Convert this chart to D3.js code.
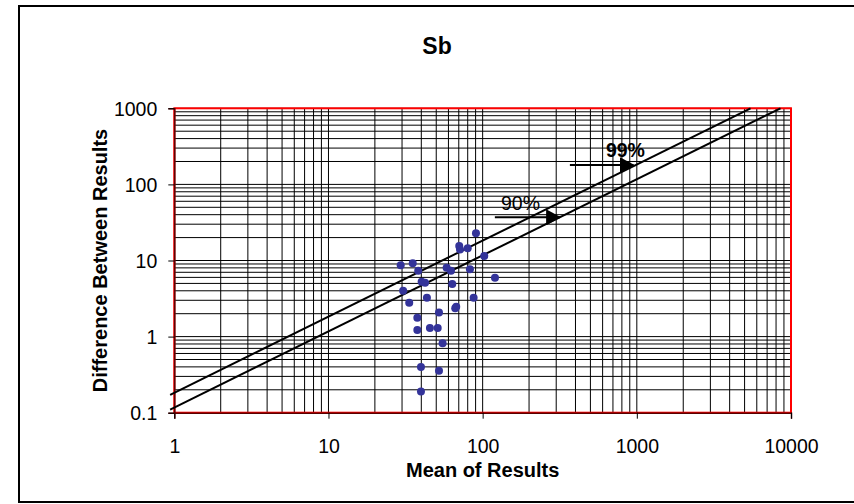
<!DOCTYPE html>
<html>
<head>
<meta charset="utf-8">
<script src="https://cdn.jsdelivr.net/npm/d3@7/dist/d3.min.js"></script>
<style>
body { margin: 0; background: #fff; }
</style>
</head>
<body>
<script>
// values
const meanResults = [90.5, 70.5, 71.3, 80.0, 102.4, 29.4, 35.2, 38.2, 58.4, 62.3,
  82.7, 120.2, 40.2, 42.3, 63.5, 30.5, 33.4, 43.5, 87.4, 67.4,
  66.4, 52.1, 37.7, 37.7, 45.5, 51.1, 55.0, 39.8, 52.1, 39.8];
const diffResults = [22.8, 15.5, 14.0, 14.5, 11.5, 8.65, 9.2, 7.35, 8.03, 7.35,
  7.66, 5.94, 5.26, 5.11, 4.91, 4.01, 2.79, 3.24, 3.24, 2.47,
  2.35, 2.08, 1.77, 1.22, 1.30, 1.30, 0.82, 0.40, 0.356, 0.19];

const xTicks = [1, 10, 100, 1000, 10000];
const yTicks = [0.1, 1, 10, 100, 1000];

const limitNames = ["90%", "99%"];
const limitFactors = [0.117, 0.183];
const lineStart = 0.94;

// arrows: [x from, x to, y]
const arrowFrom = [120, 368];
const arrowTo = [318, 952];
const arrowY = [37, 180];
const labelX = [131.5, 630];
const labelY = [46, 227];

const font = "'Liberation Sans', Arial, sans-serif";

let svg = d3.select("body").append("svg")
  .attr("width", 854)
  .attr("height", 504);

// chart frame
svg.append("rect")
  .attr("x", 19).attr("y", 6)
  .attr("width", 840).attr("height", 496)
  .attr("fill", "#fff")
  .attr("stroke", "#000")
  .attr("stroke-width", 2);

const pLeft = 174.3, pRight = 791, pTop = 108.3, pBottom = 412.7;

const x = d3.scaleLog().domain([1, 10000]).range([pLeft, pRight]);
const y = d3.scaleLog().domain([0.1, 1000]).range([pBottom, pTop]);

// minor + major grid values
const xGrid = [];
xTicks.slice(0, -1).forEach(d => { for (let m = 1; m <= 9; m++) xGrid.push(d * m); });
xGrid.push(10000);
const yGrid = [];
yTicks.slice(0, -1).forEach(d => { for (let m = 1; m <= 9; m++) yGrid.push(d * m); });
yGrid.push(1000);

svg.append("g").selectAll("line").data(xGrid)
  .enter().append("line")
    .attr("x1", d => x(d)).attr("x2", d => x(d))
    .attr("y1", pTop).attr("y2", pBottom)
    .attr("stroke", "#000").attr("stroke-width", 1);

svg.append("g").selectAll("line").data(yGrid)
  .enter().append("line")
    .attr("y1", d => y(d)).attr("y2", d => y(d))
    .attr("x1", pLeft).attr("x2", pRight)
    .attr("stroke", "#000").attr("stroke-width", 1);

// plot area border
svg.append("rect")
  .attr("x", pLeft).attr("y", pTop)
  .attr("width", pRight - pLeft).attr("height", pBottom - pTop)
  .attr("fill", "none")
  .attr("stroke", "#ff0000")
  .attr("stroke-width", 2);

// axes
const xAxis = svg.append("g")
  .attr("transform", `translate(0,${pBottom})`)
  .call(d3.axisBottom(x).tickValues(xTicks).tickFormat(d3.format("d")).tickSizeOuter(0).tickSize(6).tickPadding(20));
const yAxis = svg.append("g")
  .attr("transform", `translate(${pLeft},0)`)
  .call(d3.axisLeft(y).tickValues(yTicks).tickFormat(d => d < 1 ? "0.1" : d3.format("d")(d)).tickSizeOuter(0).tickSize(6).tickPadding(11));

[xAxis, yAxis].forEach(a => {
  a.select(".domain").attr("stroke", "#5a0000").attr("stroke-width", 1.5);
  a.selectAll(".tick line").attr("stroke", "#000");
  a.selectAll("text")
    .attr("font-family", font)
    .attr("font-size", "19.5px")
    .attr("fill", "#000");
});
yAxis.selectAll("text").attr("dy", "0.36em");

// limit lines
const lineGen = d3.line().x(d => x(d[0])).y(d => y(d[1]));
svg.append("g").selectAll("path").data(limitFactors)
  .enter().append("path")
    .attr("d", k => lineGen([[lineStart, lineStart * k], [1000 / k, 1000]]))
    .attr("fill", "none")
    .attr("stroke", "#000")
    .attr("stroke-width", 2);

// points
svg.append("g").selectAll("circle").data(meanResults)
  .enter().append("circle")
    .attr("cx", d => x(d))
    .attr("cy", (d, i) => y(diffResults[i]))
    .attr("r", 4)
    .attr("fill", "#333399");

// arrows
svg.append("defs").append("marker")
  .attr("id", "head")
  .attr("markerUnits", "userSpaceOnUse")
  .attr("markerWidth", 15).attr("markerHeight", 16)
  .attr("refX", 14).attr("refY", 8)
  .attr("orient", "auto")
  .append("path")
    .attr("d", "M0,0 L15,8 L0,16 Z")
    .attr("fill", "#000");

svg.append("g").selectAll("line").data(arrowFrom)
  .enter().append("line")
    .attr("x1", d => x(d))
    .attr("x2", (d, i) => x(arrowTo[i]))
    .attr("y1", (d, i) => y(arrowY[i]))
    .attr("y2", (d, i) => y(arrowY[i]))
    .attr("stroke", "#000")
    .attr("stroke-width", 2)
    .attr("marker-end", "url(#head)");

svg.append("g").selectAll("text").data(limitNames)
  .enter().append("text")
    .attr("x", (d, i) => x(labelX[i]))
    .attr("y", (d, i) => y(labelY[i]))
    .attr("font-family", font)
    .attr("font-size", "19.5px")
    .attr("font-weight", (d, i) => i === 1 ? "bold" : "normal")
    .attr("fill", "#000")
    .text(d => d);

// titles
svg.append("text")
  .attr("x", 437).attr("y", 54)
  .attr("text-anchor", "middle")
  .attr("font-family", font)
  .attr("font-size", "23px")
  .attr("font-weight", "bold")
  .text("Sb");

svg.append("text")
  .attr("x", (pLeft + pRight) / 2).attr("y", 477)
  .attr("text-anchor", "middle")
  .attr("font-family", font)
  .attr("font-size", "20px")
  .attr("font-weight", "bold")
  .text("Mean of Results");

svg.append("text")
  .attr("text-anchor", "middle")
  .attr("font-family", font)
  .attr("font-size", "20px")
  .attr("font-weight", "bold")
  .attr("transform", `translate(107,${(pTop + pBottom) / 2}) rotate(-90)`)
  .text("Difference Between Results");
</script>
</body>
</html>
